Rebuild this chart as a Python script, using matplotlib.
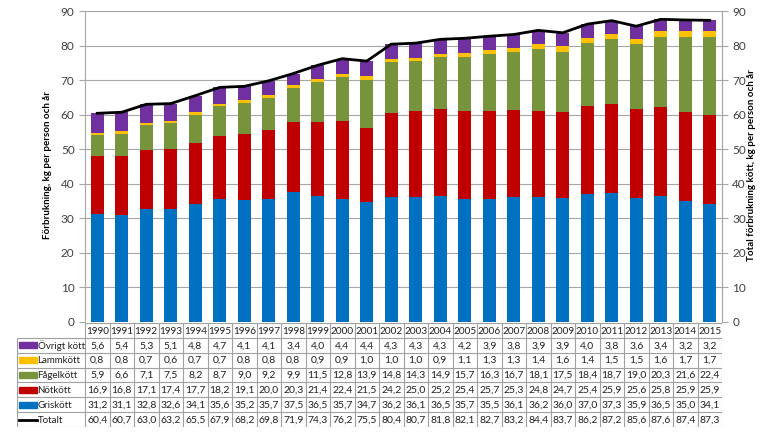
import numpy as np
import matplotlib.pyplot as plt

plt.rcParams['font.family'] = ['Lato', 'DejaVu Sans']

years = list(range(1990, 2016))
ovrigt = [5.6, 5.4, 5.3, 5.1, 4.8, 4.7, 4.1, 4.1, 3.4, 4.0, 4.4, 4.4, 4.3,
          4.3, 4.3, 4.2, 3.9, 3.8, 3.9, 3.9, 4.0, 3.8, 3.6, 3.4, 3.2, 3.2]
lamm = [0.8, 0.8, 0.7, 0.6, 0.7, 0.7, 0.8, 0.8, 0.8, 0.9, 0.9, 1.0, 1.0,
        1.0, 0.9, 1.1, 1.3, 1.3, 1.4, 1.6, 1.4, 1.5, 1.5, 1.6, 1.7, 1.7]
fagel = [5.9, 6.6, 7.1, 7.5, 8.2, 8.7, 9.0, 9.2, 9.9, 11.5, 12.8, 13.9, 14.8,
         14.3, 14.9, 15.7, 16.3, 16.7, 18.1, 17.5, 18.4, 18.7, 19.0, 20.3, 21.6, 22.4]
not_ = [16.9, 16.8, 17.1, 17.4, 17.7, 18.2, 19.1, 20.0, 20.3, 21.4, 22.4, 21.5, 24.2,
        25.0, 25.2, 25.4, 25.7, 25.3, 24.8, 24.7, 25.4, 25.9, 25.6, 25.8, 25.9, 25.9]
gris = [31.2, 31.1, 32.8, 32.6, 34.1, 35.6, 35.2, 35.7, 37.5, 36.5, 35.7, 34.7, 36.2,
        36.1, 36.5, 35.7, 35.5, 36.1, 36.2, 36.0, 37.0, 37.3, 35.9, 36.5, 35.0, 34.1]
totalt = [60.4, 60.7, 63.0, 63.2, 65.5, 67.9, 68.2, 69.8, 71.9, 74.3, 76.2, 75.5, 80.4,
          80.7, 81.8, 82.1, 82.7, 83.2, 84.4, 83.7, 86.2, 87.2, 85.6, 87.6, 87.4, 87.3]

# stacking order bottom -> top
stack = [('Griskött', gris, '#0070C0'),
         ('Nötkött', not_, '#C00000'),
         ('Fågelkött', fagel, '#77933C'),
         ('Lammkött', lamm, '#FFC000'),
         ('Övrigt kött', ovrigt, '#7030A0')]

W, H = 768, 433
fig = plt.figure(figsize=(W / 100, H / 100), dpi=100)

# main chart
ax = fig.add_axes([85 / W, 1 - 322 / H, (722 - 85) / W, (322 - 11) / H])
x = np.arange(len(years))
bottom = np.zeros(len(years))
for name, vals, col in stack:
    ax.bar(x, vals, 0.52, bottom=bottom, color=col, zorder=2)
    bottom += np.array(vals)
ax.plot(x, totalt, color='black', lw=2, zorder=3)

ax.set_xlim(-0.5, len(years) - 0.5)
ax.set_ylim(0, 90)
ax.set_yticks(range(0, 91, 10))
ax.set_xticks([])
ax.grid(axis='y', color='#a6a6a6', lw=0.8, zorder=0)
for s in ['top', 'bottom']:
    ax.spines[s].set_visible(False)
for s in ['left', 'right']:
    ax.spines[s].set_color('#a6a6a6')
ax.tick_params(axis='y', labelsize=8.5, colors='#a6a6a6', labelcolor='#404040', length=4)

ax2 = ax.twinx()
ax2.set_ylim(0, 90)
ax2.set_yticks(range(0, 91, 10))
for s in ['top', 'bottom', 'left']:
    ax2.spines[s].set_visible(False)
ax2.spines['right'].set_color('#a6a6a6')
ax2.tick_params(axis='y', labelsize=8.5, colors='#a6a6a6', labelcolor='#404040', length=4)

fig.text(48 / W, 1 - 165 / H, 'Förbrukning, kg per person och år', rotation=90,
         fontsize=7, fontweight='bold', ha='center', va='center')
fig.text(751 / W, 1 - 165 / H, 'Total förbrukning kött, kg per person och år', rotation=90,
         fontsize=7, fontweight='bold', ha='center', va='center')

# data table
lab_w = (85 - 17) / 24.5
tax = fig.add_axes([17 / W, 1 - 427 / H, (722 - 17) / W, (427 - 323) / H])
tax.set_xlim(-lab_w, len(years))
tax.set_ylim(7, 0)
tax.axis('off')
lc = '#a0a0a0'
tax.hlines(0, 0, len(years), color=lc, lw=0.8)
tax.hlines(range(1, 8), -lab_w, len(years), color=lc, lw=0.8)
tax.vlines(range(0, len(years) + 1), 0, 7, color=lc, lw=0.8)
tax.vlines(-lab_w, 1, 7, color=lc, lw=0.8)

for i, yr in enumerate(years):
    tax.text(i + 0.5, 0.55, str(yr), ha='center', va='center', fontsize=7.2, color='#202020')

rows = [('Övrigt kött', ovrigt, '#7030A0'),
        ('Lammkött', lamm, '#FFC000'),
        ('Fågelkött', fagel, '#77933C'),
        ('Nötkött', not_, '#C00000'),
        ('Griskött', gris, '#0070C0'),
        ('Totalt', totalt, 'black')]
for r, (name, vals, col) in enumerate(rows, start=1):
    yc = r + 0.5
    if name == 'Totalt':
        tax.plot([-lab_w + 0.1, -lab_w + 0.8], [yc, yc], color=col, lw=2)
    else:
        tax.add_patch(plt.Rectangle((-lab_w + 0.1, yc - 0.2), 0.7, 0.4, color=col))
    tax.text(-lab_w + 0.84, yc + 0.03, name, ha='left', va='center', fontsize=7, color='#202020')
    for i, v in enumerate(vals):
        tax.text(i + 0.5, yc + 0.03, f'{v:.1f}'.replace('.', ','), ha='center', va='center',
                 fontsize=7.5, color='#202020')

fig.savefig('out.png', dpi=100)
